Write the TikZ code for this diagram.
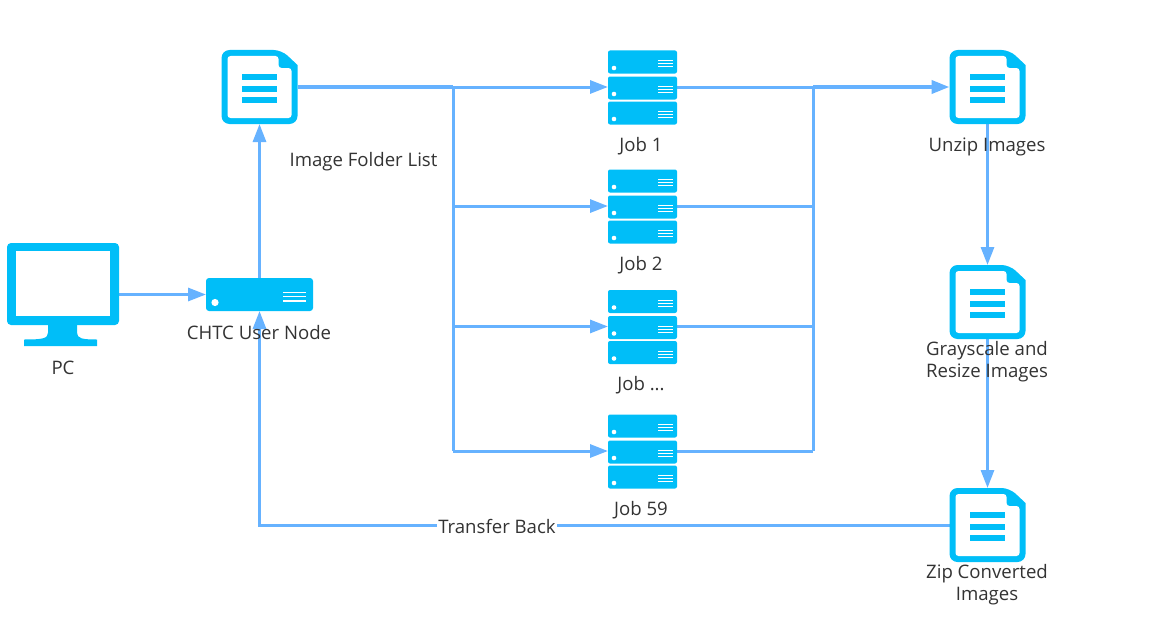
\documentclass[tikz,border=0pt]{standalone}
\usepackage{fontspec}
\setmainfont{Open Sans}
\usetikzlibrary{arrows.meta}
\definecolor{iconblue}{HTML}{00BEF8}
\definecolor{lineblue}{HTML}{66B2FF}
\definecolor{textgray}{HTML}{333333}
\tikzset{
	link/.style={draw=lineblue,line width=3pt,-{Triangle[length=18pt,width=13pt]}},
	plainlink/.style={draw=lineblue,line width=3pt},
	lbl/.style={text=textgray,font=\fontsize{18.6}{22}\selectfont,align=center,inner sep=1pt},
	docbox/.style={minimum width=76pt,minimum height=74pt,inner sep=0pt,outer sep=0pt},
	srvbox/.style={minimum width=107pt,minimum height=33pt,inner sep=0pt,outer sep=0pt},
	jobbox/.style={minimum width=69pt,minimum height=73pt,inner sep=0pt,outer sep=0pt},
	pcbox/.style={minimum width=112pt,minimum height=103pt,inner sep=0pt,outer sep=0pt},
	docicon/.pic={
		\fill[iconblue] (-38,0) [rounded corners=8pt] -- (-38,-37) -- (22,-37) [sharp corners] -- (38,-22) [rounded corners=8pt] -- (38,37) -- (-38,37) -- cycle;
		\fill[white,rounded corners=3pt] (-32,-31) -- (19,-31) -- (19,-19) -- (32,-19) -- (32,31) -- (-32,31) -- cycle;
		\fill[iconblue] (-17.5,-13) rectangle (17.5,-7);
		\fill[iconblue] (-17.5,-1.5) rectangle (17.5,4.5);
		\fill[iconblue] (-17.5,10) rectangle (17.5,16);
	},
	unit/.pic={
		\fill[iconblue,rounded corners=2pt] (-34.5,-11.5) rectangle (34.5,11.5);
		\fill[white] (-28.5,6) circle[radius=2.3];
		\foreach \l in {2.2,5.2,8.2}
			\draw[white,line width=0.9pt] (15.5,\l-3.4) -- (30.5,\l-3.4);
	},
	jobicon/.pic={
		\pic at (0,-25) {unit};
		\pic at (0,1) {unit};
		\pic at (0,26) {unit};
	},
	srvicon/.pic={
		\fill[iconblue,rounded corners=3pt] (-53.5,-16.5) rectangle (53.5,16.5);
		\fill[white] (-44.5,8) circle[radius=3.6];
		\foreach \l in {1,5.3,9.6}
			\draw[white,line width=1.3pt] (23.5,\l-3) -- (46.5,\l-3);
	},
	pcicon/.pic={
		\fill[iconblue,rounded corners=4pt] (-56,-51.5) rectangle (56,30.5);
		\fill[white] (-47.5,-43.5) rectangle (47,21.5);
		\fill[iconblue] (-15,30) -- (-15,38) .. controls (-15,44) and (-20,45) .. (-39,45) -- (-39,51.5) -- (34,51.5) -- (34,45) .. controls (19,45) and (14,44) .. (14,38) -- (14,30) -- cycle;
	},
}
\begin{document}
\begin{tikzpicture}[x=1pt,y=-1pt]
	\useasboundingbox (0,0) rectangle (1158,642);
	% nodes
	\node[pcbox] (pc) at (63,294.5) {};
	\node[srvbox] (user) at (259.5,294.5) {};
	\node[docbox] (list) at (259.5,87) {};
	\node[jobbox] (job1) at (642.5,87) {};
	\node[jobbox] (job2) at (642.5,206) {};
	\node[jobbox] (job3) at (642.5,326.5) {};
	\node[jobbox] (job59) at (642.5,451) {};
	\node[docbox] (unzip) at (987.5,87) {};
	\node[docbox] (gray) at (987.5,302) {};
	\node[docbox] (zip) at (987.5,525) {};
	\coordinate (splitjob) at (453,87);
	\coordinate (mergejob) at (813,87);
	% connectors
	\draw[plainlink,line width=3.8pt] (list.east) -- (splitjob);
	\draw[link] (splitjob) -- (job1.west);
	\draw[plainlink] (splitjob) -- (splitjob |- job59);
	\draw[link] (splitjob |- job2) -- (job2.west);
	\draw[link] (splitjob |- job3) -- (job3.west);
	\draw[link] (splitjob |- job59) -- (job59.west);
	\draw[plainlink] (job1.east) -- (mergejob);
	\draw[plainlink] (job2.east) -- (mergejob |- job2);
	\draw[plainlink] (job3.east) -- (mergejob |- job3);
	\draw[plainlink] (job59.east) -- (mergejob |- job59);
	\draw[plainlink] (mergejob) -- (mergejob |- job59);
	\draw[link,line width=3.8pt] (mergejob) -- (unzip.west);
	\draw[link] (pc.east |- user) -- (user.west);
	\draw[link] (user.north) -- (list.south);
	\draw[link] (unzip.south) -- (gray.north);
	\draw[link] (gray.south) -- (zip.north);
	\draw[link] (zip.west) -- (zip.west -| user) -- (user.south);
	% icons
	\pic at (pc) {pcicon};
	\pic at (user) {srvicon};
	\pic at (list) {docicon};
	\foreach \n in {job1,job2,job3,job59}
		\pic at (\n) {jobicon};
	\foreach \n in {unzip,gray,zip}
		\pic at (\n) {docicon};
	% labels
	\node[lbl] (pctext) at (63,368) {PC};
	\node[lbl] (usertext) at (259,333) {CHTC User Node};
	\node[lbl] (listtext) at (363.5,162) {Image Folder List};
	\node[lbl] (job1text) at (641,146) {Job 1};
	\node[lbl] (job2text) at (641,265) {Job 2};
	\node[lbl] (job3text) at (641,385) {Job ...};
	\node[lbl] (job59text) at (641,510) {Job 59};
	\node[lbl] (unziptext) at (987,146.5) {Unzip Images};
	\node[lbl] (graytext) at (987,362) {Grayscale and\\Resize Images};
	\node[lbl] (ziptext) at (987,585) {Zip Converted\\Images};
	\node[lbl,fill=white] (backtext) at (497,526.5) {Transfer Back};
\end{tikzpicture}
\end{document}
